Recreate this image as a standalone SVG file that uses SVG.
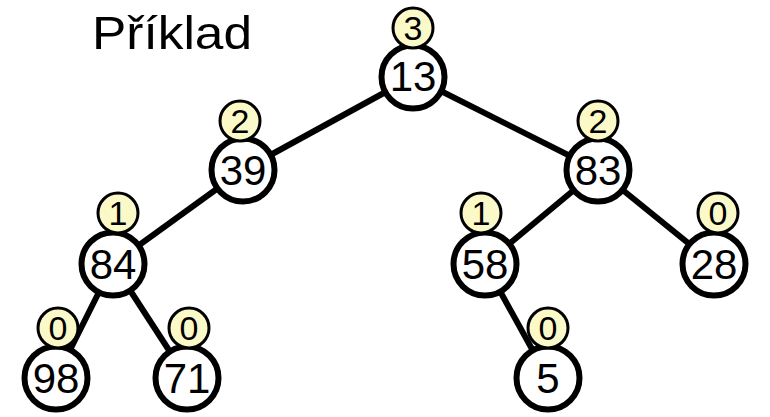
<svg xmlns="http://www.w3.org/2000/svg" width="770" height="417" viewBox="0 0 770 417">
<style>
.edge{stroke:#000;stroke-width:6;fill:none}
.node{fill:#fff;stroke:#000;stroke-width:6}
.badge{fill:#fbf9c8;stroke:#000;stroke-width:3}
.val{font-family:"Liberation Sans",Arial,sans-serif;font-size:42px;text-anchor:middle;fill:#000}
.bv{font-family:"Liberation Sans",Arial,sans-serif;font-size:34px;text-anchor:middle;fill:#000}
.title{font-family:"Liberation Sans",Arial,sans-serif;font-size:46px;fill:#000}
</style>
<rect width="770" height="417" fill="#fff"/>
<text class="title" x="92" y="49" textLength="160" lengthAdjust="spacingAndGlyphs">Příklad</text>
<g id="edges">
<line class="edge" x1="413" y1="77" x2="243" y2="170"/>
<line class="edge" x1="413" y1="77" x2="598" y2="170"/>
<line class="edge" x1="243" y1="170" x2="113" y2="264"/>
<line class="edge" x1="113" y1="264" x2="56" y2="378"/>
<line class="edge" x1="113" y1="264" x2="187" y2="378"/>
<line class="edge" x1="598" y1="170" x2="485" y2="264"/>
<line class="edge" x1="598" y1="170" x2="714" y2="264"/>
<line class="edge" x1="485" y1="264" x2="548" y2="378"/>
</g>
<g id="n13"><circle class="node" cx="413" cy="77" r="31.5"/><text class="val" x="413" y="91">13</text><circle class="badge" cx="413" cy="28" r="20"/><text class="bv" x="413" y="40">3</text></g>
<g id="n39"><circle class="node" cx="243" cy="170" r="31.5"/><text class="val" x="243" y="185">39</text><circle class="badge" cx="240" cy="121" r="20"/><text class="bv" x="240" y="133">2</text></g>
<g id="n83"><circle class="node" cx="598" cy="170" r="31.5"/><text class="val" x="598" y="185">83</text><circle class="badge" cx="598" cy="121" r="20"/><text class="bv" x="598" y="133">2</text></g>
<g id="n84"><circle class="node" cx="113" cy="264" r="31.5"/><text class="val" x="113" y="279">84</text><circle class="badge" cx="118" cy="213" r="20"/><text class="bv" x="118" y="225">1</text></g>
<g id="n58"><circle class="node" cx="485" cy="264" r="31.5"/><text class="val" x="485" y="279">58</text><circle class="badge" cx="481" cy="213" r="20"/><text class="bv" x="481" y="225">1</text></g>
<g id="n28"><circle class="node" cx="714" cy="264" r="31.5"/><text class="val" x="714" y="279">28</text><circle class="badge" cx="718" cy="213" r="20"/><text class="bv" x="718" y="225">0</text></g>
<g id="n98"><circle class="node" cx="56" cy="378" r="31.5"/><text class="val" x="56" y="393">98</text><circle class="badge" cx="58" cy="328" r="20"/><text class="bv" x="58" y="340">0</text></g>
<g id="n71"><circle class="node" cx="187" cy="378" r="31.5"/><text class="val" x="187" y="393">71</text><circle class="badge" cx="189" cy="328" r="20"/><text class="bv" x="189" y="340">0</text></g>
<g id="n5"><circle class="node" cx="548" cy="378" r="31.5"/><text class="val" x="548" y="393">5</text><circle class="badge" cx="548" cy="328" r="20"/><text class="bv" x="548" y="340">0</text></g>
</svg>
